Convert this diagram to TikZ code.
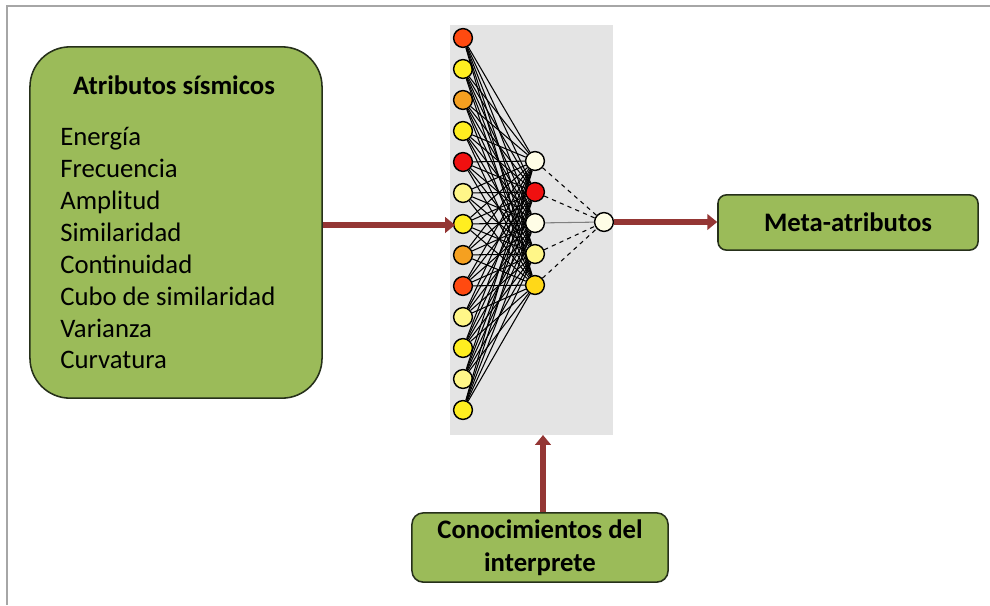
\documentclass[tikz,border=0pt]{standalone}
\usepackage{fontspec}
\setmainfont{Carlito}
\usetikzlibrary{arrows.meta,positioning}
\definecolor{boxgreen}{HTML}{9BBB59}
\definecolor{boxline}{HTML}{26301A}
\definecolor{arrowred}{HTML}{943634}
\definecolor{panelgray}{HTML}{E4E4E4}
\definecolor{nred}{HTML}{F01010}
\definecolor{norange}{HTML}{FF4A10}
\definecolor{namber}{HTML}{F5A020}
\definecolor{nyellow}{HTML}{FFEE20}
\definecolor{npale}{HTML}{FFF688}
\definecolor{nivory}{HTML}{FFFDE6}
\definecolor{ngold}{HTML}{FFD818}
\tikzset{
  greenbox/.style={draw=boxline,line width=1.1pt,fill=boxgreen,rounded corners=#1},
  neuron/.style={circle,draw=black,line width=1pt,fill=#1,minimum size=0.47cm,inner sep=0pt},
  weight/.style={draw=black,line width=0.75pt},
  bigarrow/.style={draw=arrowred,line width=4.3pt,-{Triangle[width=11pt,length=7pt]}},
  boxtext/.style={font=\fontsize{19}{23.4}\selectfont\bfseries,align=center}
}
\begin{document}
\begin{tikzpicture}[x=0.025cm,y=-0.025cm]
  \useasboundingbox (0,0) rectangle (990,605);
  \fill[white] (0,0) rectangle (990,605);
  \draw[gray!70,line width=1.2pt] (7,605) -- (7,6) -- (990,6);
  % caja de atributos
  \node[greenbox=1cm,minimum width=7.3cm,minimum height=8.78cm] (attr) at (176,222.5) {};
  \node[boxtext] (attrtitle) at (174,85) {Atributos sísmicos};
  \node[anchor=north west,align=left,inner sep=0pt,
        font=\fontsize{19}{22.7}\selectfont] (attrlist) at (60,127)
    {Energía\\Frecuencia\\Amplitud\\Similaridad\\Continuidad\\Cubo de similaridad\\Varianza\\Curvatura};
  % red neuronal
  \fill[panelgray] (450,25) rectangle (613,435);
  \coordinate (panelbot) at (543,435);
  \coordinate (panelleft) at (455,225);
  \foreach \c [count=\i] in {norange,nyellow,namber,nyellow,nred,npale,nyellow,namber,norange,npale,nyellow,npale,nyellow}
    \node[neuron=\c] (in\i) at (463,{38+31*(\i-1)}) {};
  \foreach \c [count=\j] in {nivory,nred,nivory,npale,ngold}
    \node[neuron=\c] (h\j) at (535,{161+31*(\j-1)}) {};
  \node[neuron=nivory] (out) at (604,222) {};
  \foreach \i in {1,...,13}
    \foreach \j in {1,...,5}
      \draw[weight] (in\i) -- (h\j);
  \foreach \j in {1,2,4,5}
    \draw[weight,dashed] (h\j) -- (out);
  \draw[weight,gray] (h3) -- (out);
  % salida
  \node[greenbox=6pt,minimum width=6.5cm,minimum height=1.38cm] (meta) at (848,222.5) {};
  \node[boxtext] at (meta.center) {Meta-atributos};
  % conocimiento
  \node[greenbox=8pt,minimum width=6.4cm,minimum height=1.73cm] (know) at (540,547.5) {};
  \node[boxtext] at (know.center) {Conocimientos del\\interprete};
  % flechas
  \draw[bigarrow] (attr.east |- panelleft) -- (panelleft);
  \draw[bigarrow] (out.east) -- (meta.west |- out);
  \draw[bigarrow] (know.north -| panelbot) -- (panelbot);
\end{tikzpicture}
\end{document}
